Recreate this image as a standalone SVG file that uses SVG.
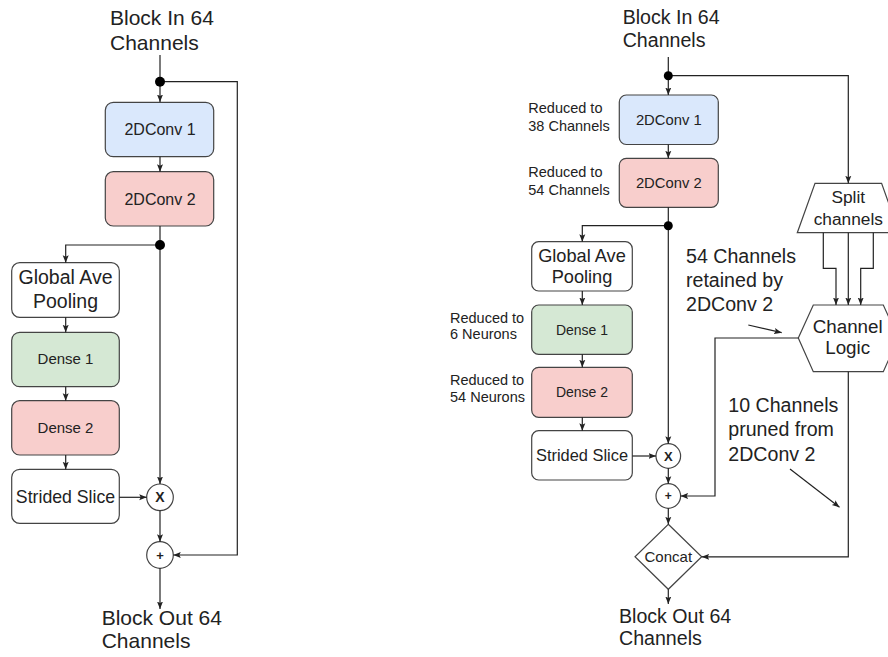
<svg xmlns="http://www.w3.org/2000/svg" width="888" height="657" viewBox="0 0 888 657">
  <style>
    text { font-family: "Liberation Sans", Arial, sans-serif; fill: #222; }
    .c { text-anchor: middle; }
    .box { stroke: #444; stroke-width: 1.2; }
    .plain { fill: #fff; }
    .blue { fill: #dae8fc; }
    .red { fill: #f8cecc; }
    .green { fill: #d5e8d4; }
    .op { fill: #fff; stroke: #444; stroke-width: 1.2; }
    .wire { fill: none; stroke: #222; stroke-width: 1.2; }
    .arr { marker-end: url(#ah); }
    .dot { fill: #000; }
    .sym { font-weight: bold; }
  </style>
  <defs>
    <marker id="ah" markerUnits="userSpaceOnUse" markerWidth="8" markerHeight="8" viewBox="0 0 8 8" refX="7.5" refY="4" orient="auto">
      <path d="M0,1 L7.5,4 L0,7 L1.5,4 Z" fill="#222"/>
    </marker>
  </defs>

  <rect width="888" height="657" fill="#fff"/>

  <!-- ===== Standard block (left) ===== -->
  <g id="left-in">
    <text x="110" y="25" font-size="21">Block In 64</text>
    <text x="110" y="50" font-size="21">Channels</text>
  </g>
  <g id="left-conv1">
    <rect class="box blue" x="105.3" y="102.3" width="108.4" height="54.4" rx="8"/>
    <text class="c" x="160" y="135" font-size="16">2DConv 1</text>
  </g>
  <g id="left-conv2">
    <rect class="box red" x="105.3" y="171.7" width="108.4" height="54.3" rx="8"/>
    <text class="c" x="160" y="205" font-size="16">2DConv 2</text>
  </g>
  <g id="left-gap">
    <rect class="box plain" x="11.7" y="262.7" width="107.6" height="54.6" rx="8"/>
    <text class="c" x="65.5" y="284" font-size="19.5">Global Ave</text>
    <text class="c" x="65.5" y="308.3" font-size="19.5">Pooling</text>
  </g>
  <g id="left-dense1">
    <rect class="box green" x="11.7" y="332.3" width="107.6" height="54.4" rx="8"/>
    <text class="c" x="65.5" y="364" font-size="15">Dense 1</text>
  </g>
  <g id="left-dense2">
    <rect class="box red" x="11.7" y="400.7" width="107.6" height="54.3" rx="8"/>
    <text class="c" x="65.5" y="433" font-size="15">Dense 2</text>
  </g>
  <g id="left-slice">
    <rect class="box plain" x="11.7" y="469.3" width="107.6" height="54" rx="8"/>
    <text class="c" x="65.5" y="503" font-size="17.7">Strided Slice</text>
  </g>
  <g id="left-mul">
    <circle class="op" cx="160" cy="497.3" r="13.3"/>
    <text class="c sym" x="160" y="502.3" font-size="14">X</text>
  </g>
  <g id="left-add">
    <circle class="op" cx="160" cy="555" r="13.3"/>
    <text class="c sym" x="160" y="559.5" font-size="13">+</text>
  </g>
  <g id="left-out">
    <text x="101.7" y="625" font-size="21">Block Out 64</text>
    <text x="101.7" y="648" font-size="21">Channels</text>
  </g>

  <!-- ===== Pruned block (right) ===== -->
  <g id="right-in">
    <text x="622.7" y="24" font-size="19.6">Block In 64</text>
    <text x="622.7" y="46.7" font-size="19.6">Channels</text>
  </g>
  <g id="right-conv1">
    <rect class="box blue" x="619.3" y="95" width="99" height="49.5" rx="7"/>
    <text class="c" x="668.8" y="124.5" font-size="14.8">2DConv 1</text>
    <text x="528.3" y="112.7" font-size="14.5">Reduced to</text>
    <text x="528.3" y="130.7" font-size="14.5">38 Channels</text>
  </g>
  <g id="right-conv2">
    <rect class="box red" x="619.3" y="158.3" width="99" height="49" rx="7"/>
    <text class="c" x="668.8" y="188" font-size="14.8">2DConv 2</text>
    <text x="528.3" y="177.3" font-size="14.5">Reduced to</text>
    <text x="528.3" y="195" font-size="14.5">54 Channels</text>
  </g>
  <g id="right-gap">
    <rect class="box plain" x="531.7" y="241.7" width="100.6" height="49.3" rx="7"/>
    <text class="c" x="582" y="261.7" font-size="18.2">Global Ave</text>
    <text class="c" x="582" y="283.3" font-size="18.2">Pooling</text>
  </g>
  <g id="right-dense1">
    <rect class="box green" x="531.7" y="305" width="100.6" height="49.3" rx="7"/>
    <text class="c" x="582" y="335.3" font-size="14">Dense 1</text>
    <text x="450" y="322.7" font-size="14.5">Reduced to</text>
    <text x="450" y="339.3" font-size="14.5">6 Neurons</text>
  </g>
  <g id="right-dense2">
    <rect class="box red" x="531.7" y="367.3" width="100.6" height="50" rx="7"/>
    <text class="c" x="582" y="396.7" font-size="14">Dense 2</text>
    <text x="450" y="385" font-size="14.5">Reduced to</text>
    <text x="450" y="402.3" font-size="14.5">54 Neurons</text>
  </g>
  <g id="right-slice">
    <rect class="box plain" x="531.7" y="430.7" width="100.6" height="49.3" rx="7"/>
    <text class="c" x="582" y="461" font-size="16.4">Strided Slice</text>
  </g>
  <g id="right-mul">
    <circle class="op" cx="668.3" cy="456" r="12.3"/>
    <text class="c sym" x="668.3" y="460.8" font-size="13">X</text>
  </g>
  <g id="right-add">
    <circle class="op" cx="668.3" cy="496" r="12.3"/>
    <text class="c sym" x="668.3" y="500.3" font-size="12">+</text>
  </g>
  <g id="right-concat">
    <polygon class="op" points="668.3,524.3 701.7,556.8 668.3,589.3 635,556.8"/>
    <text class="c" x="668.3" y="562" font-size="15">Concat</text>
  </g>
  <g id="right-split">
    <polygon class="op" points="815,183.3 881.6,183.3 899.3,232.7 797.3,232.7"/>
    <text class="c" x="848.3" y="203.3" font-size="17.3">Split</text>
    <text class="c" x="848.3" y="225" font-size="17.3">channels</text>
  </g>
  <g id="right-logic">
    <polygon class="op" points="798.3,338 813.3,305 883.3,305 898.3,338 883.3,371.7 813.3,371.7"/>
    <text class="c" x="847.7" y="332.7" font-size="18.8">Channel</text>
    <text class="c" x="847.7" y="354" font-size="18.8">Logic</text>
  </g>
  <g id="right-notes">
    <text x="686" y="263.3" font-size="19.6">54 Channels</text>
    <text x="686" y="287.3" font-size="19.6">retained by</text>
    <text x="686" y="310.7" font-size="19.6">2DConv 2</text>
    <text x="728.3" y="411.5" font-size="19.6">10 Channels</text>
    <text x="728.3" y="435.8" font-size="19.6">pruned from</text>
    <text x="728.3" y="460.7" font-size="19.6">2DConv 2</text>
  </g>
  <g id="right-out">
    <text x="619" y="622.7" font-size="19.6">Block Out 64</text>
    <text x="619" y="645" font-size="19.6">Channels</text>
  </g>

  <!-- ===== Connectors ===== -->
  <g id="connectors">
    <!-- left block -->
    <path class="wire arr" d="M160,55 V102"/>
    <path class="wire arr" d="M160,81.7 H237.3 V555 H173.3"/>
    <path class="wire arr" d="M160,156.7 V171.7"/>
    <path class="wire arr" d="M160,226 V484"/>
    <path class="wire arr" d="M160,245 H65.7 V262.7"/>
    <path class="wire arr" d="M65.7,317.3 V332.3"/>
    <path class="wire arr" d="M65.7,386.7 V400.7"/>
    <path class="wire arr" d="M65.7,455 V469.3"/>
    <path class="wire arr" d="M119.3,497.3 H146.7"/>
    <path class="wire arr" d="M160,510.6 V541.7"/>
    <path class="wire arr" d="M160,568.3 V609"/>
    <circle class="dot" cx="160" cy="81.7" r="5"/>
    <circle class="dot" cx="160" cy="245" r="5"/>

    <!-- right block -->
    <path class="wire arr" d="M668.3,57 V95"/>
    <path class="wire arr" d="M668.3,75.7 H848.3 V183.3"/>
    <path class="wire arr" d="M668.3,144.5 V158.3"/>
    <path class="wire arr" d="M668.3,207.3 V443.7"/>
    <path class="wire arr" d="M668.3,225.7 H582.3 V241.7"/>
    <path class="wire arr" d="M582.3,291 V305"/>
    <path class="wire arr" d="M582.3,354.3 V367.3"/>
    <path class="wire arr" d="M582.3,417.3 V430.7"/>
    <path class="wire arr" d="M632.3,456 H656"/>
    <path class="wire arr" d="M668.3,468.3 V483.7"/>
    <path class="wire arr" d="M668.3,508.3 V524.3"/>
    <path class="wire arr" d="M668.3,589.3 V604"/>
    <path class="wire arr" d="M823.3,232.7 V268.3 H836 V305"/>
    <path class="wire arr" d="M848.3,232.7 V305"/>
    <path class="wire arr" d="M873.3,232.7 V268.3 H860.7 V305"/>
    <path class="wire arr" d="M798.3,338 H715 V496 H680.6"/>
    <path class="wire arr" d="M848.3,371.7 V556.8 H701.7"/>
    <path class="wire arr" d="M748.3,325 L781.7,332.7"/>
    <path class="wire arr" d="M790,469 L839.5,507.3"/>
    <circle class="dot" cx="668.3" cy="75.7" r="4.5"/>
    <circle class="dot" cx="668.3" cy="225.7" r="4.5"/>
  </g>
</svg>
